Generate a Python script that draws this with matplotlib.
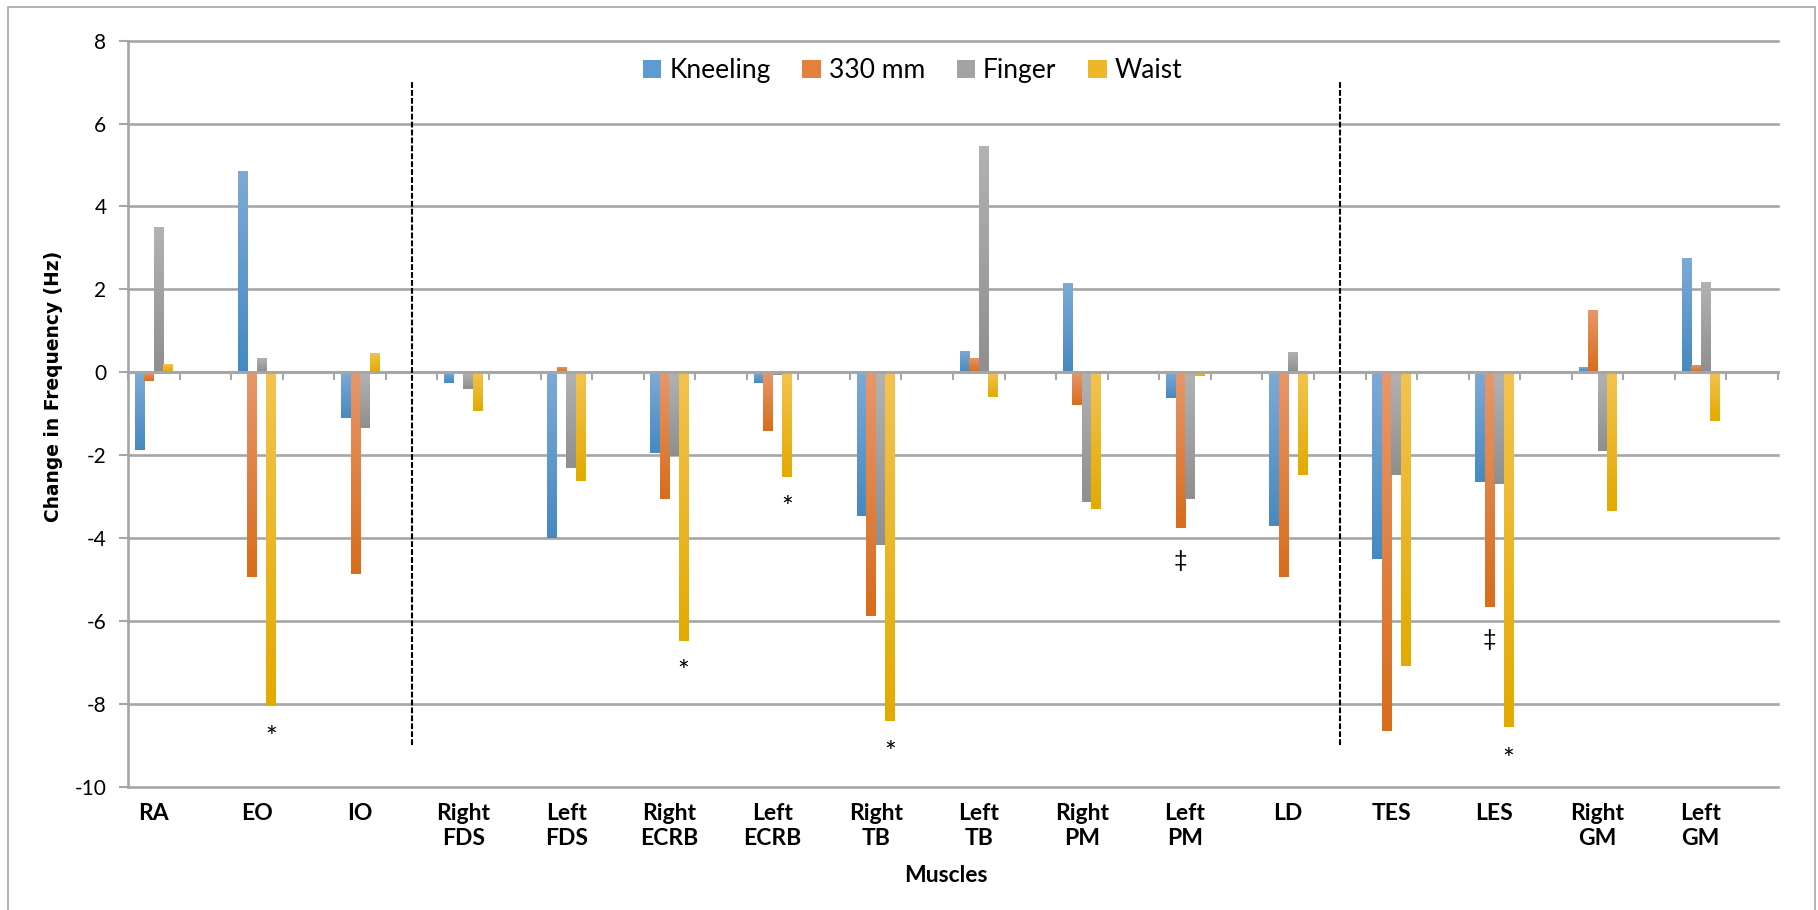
import numpy as np
import matplotlib
matplotlib.use("Agg")
import matplotlib.pyplot as plt
from matplotlib.colors import LinearSegmentedColormap
from matplotlib.patches import Rectangle, Patch

# data
muscles = ["RA", "EO", "IO", "Right\nFDS", "Left\nFDS", "Right\nECRB", "Left\nECRB",
           "Right\nTB", "Left\nTB", "Right\nPM", "Left\nPM", "LD", "TES", "LES",
           "Right\nGM", "Left\nGM"]
series_names = ["Kneeling", "330 mm", "Finger", "Waist"]
kneeling = [-1.87, 4.86, -1.10, -0.27, -3.99, -1.94, -0.25, -3.48, 0.51, 2.15, -0.61, -3.72, -4.50, -2.66, 0.13, 2.76]
mm330 = [-0.20, -4.93, -4.86, -0.05, 0.13, -3.05, -1.41, -5.87, 0.35, -0.78, -3.75, -4.93, -8.65, -5.66, 1.50, 0.18]
finger = [3.51, 0.35, -1.34, -0.40, -2.30, -2.03, -0.06, -4.16, 5.46, -3.12, -3.05, 0.49, -2.49, -2.69, -1.91, 2.18]
waist = [0.20, -8.05, 0.47, -0.93, -2.62, -6.48, -2.52, -8.41, -0.59, -3.29, -0.08, -2.47, -7.08, -8.57, -3.34, -1.17]

# significance marks: category index, series index, symbol, y
mark_cat = [1, 5, 6, 7, 10, 13, 13]
mark_series = [3, 3, 3, 3, 1, 1, 3]
mark_sym = ["*", "*", "*", "*", "\u2021", "\u2021", "*"]
mark_y = [-8.85, -7.25, -3.3, -9.22, -4.55, -6.45, -9.37]

# group separators
sep_x = [2.5, 11.5]

light = ["#7DAAD6", "#E8966A", "#B2B2B2", "#F3C34F"]
dark = ["#4689C2", "#D86D1C", "#8F8F8F", "#E3AA00"]
mid = ["#5E9BD0", "#E47F3E", "#A3A3A3", "#EDB728"]

font = ["Lato", "DejaVu Sans"]
plt.rcParams["font.family"] = font

fig = plt.figure(figsize=(18.18, 9.10), dpi=100)
ax = fig.add_axes([128 / 1818, 1 - 786.7 / 910, 1650 / 1818, 746 / 910])

x = np.arange(len(muscles))
w = 0.092
grad = np.linspace(0, 1, 64).reshape(-1, 1)
for j, vals in enumerate([kneeling, mm330, finger, waist]):
    bars = ax.bar(x + (j - 1.5) * w, vals, width=w, color=mid[j], linewidth=0, zorder=1)
    cmap = LinearSegmentedColormap.from_list("g%d" % j, [dark[j], light[j]])
    for b in bars:
        y0, y1 = sorted([b.get_y(), b.get_y() + b.get_height()])
        im = ax.imshow(grad, extent=[b.get_x(), b.get_x() + b.get_width(), y0, y1],
                       origin="lower", aspect="auto", cmap=cmap, zorder=1.2,
                       interpolation="bilinear")
        im.set_clip_path(b)

for sx in sep_x:
    ax.plot([sx, sx], [-9, 7], color="black", lw=1.5, dashes=(2.8, 1.0), zorder=3)

for c, s, sym, yv in zip(mark_cat, mark_series, mark_sym, mark_y):
    ax.text(c + (s - 1.5) * w, yv, sym, ha="center", va="center",
            fontsize=20 if sym == "*" else 17, zorder=4)

ax.set_xlim(-0.25, 15.75)
ax.set_ylim(-10, 8)

gcol = "#A6A6A6"
ax.set_yticks(np.arange(-10, 9, 2))
ax.set_yticklabels([str(v) for v in range(-10, 9, 2)])
ax.yaxis.grid(True, color=gcol, lw=1.9)
ax.set_axisbelow(True)
for gl in ax.get_ygridlines():
    gl.set_clip_on(False)

ax.set_xticks(np.arange(-0.25, 15.76, 0.5))
ax.set_xticklabels([])
ax.tick_params(axis="x", direction="out", length=5.5, width=1.5, color=gcol)
ax.tick_params(axis="y", direction="out", length=6.5, width=1.5, color=gcol,
               labelsize=15, pad=9)

for side in ["top", "right"]:
    ax.spines[side].set_visible(False)
ax.spines["bottom"].set_position(("data", 0))
ax.spines["bottom"].set_color(gcol)
ax.spines["bottom"].set_linewidth(2.2)
ax.spines["left"].set_color(gcol)
ax.spines["left"].set_linewidth(1.9)

for i, name in enumerate(muscles):
    ax.text(i, -10.4, name, ha="center", va="top", fontsize=16.5, fontweight="bold",
            linespacing=1.2)

fig.text(946 / 1818, 1 - 876 / 910, "Muscles", ha="center", va="center",
         fontsize=16.5, fontweight="bold")
fig.text(54 / 1818, 1 - 386 / 910, "Change in Frequency (Hz)", rotation=90,
         ha="center", va="center", fontsize=13.4, fontweight="bold",
         family="DejaVu Sans")

handles = [Patch(facecolor=mid[j], edgecolor="none", label=series_names[j]) for j in range(4)]
ax.legend(handles=handles, loc="center", bbox_to_anchor=(0.4755, 0.9594), ncol=4,
          frameon=False, fontsize=19, handlelength=0.7, handleheight=0.7,
          handletextpad=0.3, columnspacing=1.2)

fig.patches.append(Rectangle((8 / 1818, -0.1), (1815 - 8) / 1818, 1.1 - 7 / 910,
                             transform=fig.transFigure, fill=False,
                             edgecolor=gcol, lw=1.2))

fig.savefig("out.png", dpi=100)
